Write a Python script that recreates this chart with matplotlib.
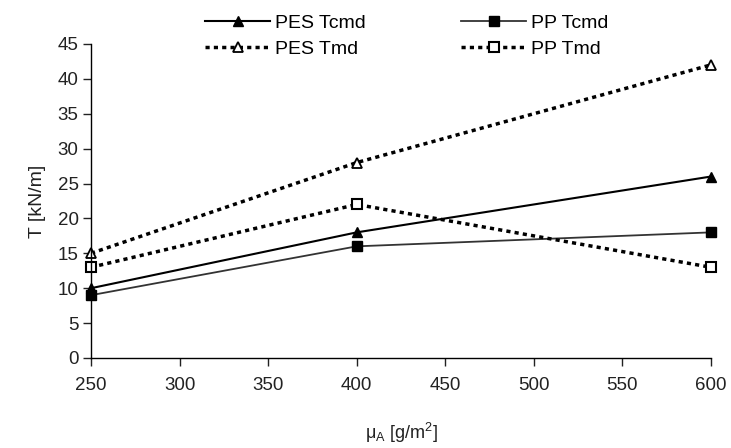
import matplotlib
matplotlib.use("Agg")
import matplotlib.pyplot as plt

plt.rcParams['font.family'] = ['Liberation Sans', 'DejaVu Sans']
plt.rcParams['mathtext.fontset'] = 'custom'
plt.rcParams['mathtext.rm'] = 'Liberation Sans'

# mass per unit area [g/m2]
mass = [250, 400, 600]
pes_tcmd = [10, 18, 26]
pp_tcmd = [9, 16, 18]
pes_tmd = [15, 28, 42]
pp_tmd = [13, 22, 13]

fig = plt.figure(figsize=(7.31, 4.48), dpi=100)
ax = fig.add_axes([0.1245, 0.2009, 0.848, 0.701])

dots = (0, (1.2, 1.2))
ax.plot(mass, pes_tcmd, color='black', lw=1.5, marker='^', ms=7,
        mfc='black', label='PES Tcmd', clip_on=False)
ax.plot(mass, pes_tmd, color='black', lw=2.5, ls=dots, marker='^', ms=7,
        mfc='white', mew=1.3, label='PES Tmd', clip_on=False)
ax.plot(mass, pp_tcmd, color='#333333', lw=1.3, marker='s', ms=7,
        mfc='black', mec='black', label='PP Tcmd', clip_on=False)
ax.plot(mass, pp_tmd, color='black', lw=2.5, ls=dots, marker='s', ms=7,
        mfc='white', mew=1.5, label='PP Tmd', clip_on=False)

ax.set_xlim(250, 600)
ax.set_ylim(0, 45)
ax.set_xticks(range(250, 601, 50))
ax.set_yticks(range(0, 46, 5))
for s in ['top', 'right']:
    ax.spines[s].set_visible(False)
for s in ['left', 'bottom']:
    ax.spines[s].set_linewidth(1.0)
ax.tick_params(direction='out', length=6, width=1.0, labelsize=13.5, colors='#222222', pad=8)
ax.tick_params(axis='y', pad=3)

ax.set_ylabel('T [kN/m]', fontsize=14, color='#222222', labelpad=8)
ax.set_xlabel(r'μ$_{\mathrm{A}}$ [g/m$^2$]', fontsize=13, color='#222222', labelpad=19)

ax.legend(ncol=2, loc='upper left', bbox_to_anchor=(205 / 731, 1 - 14 / 448),
          bbox_transform=fig.transFigure, frameon=False,
          fontsize=14, handlelength=3.35, handletextpad=0.25, columnspacing=4.9,
          labelspacing=0.45, borderaxespad=0, borderpad=0)

fig.savefig('out.png', dpi=100)
